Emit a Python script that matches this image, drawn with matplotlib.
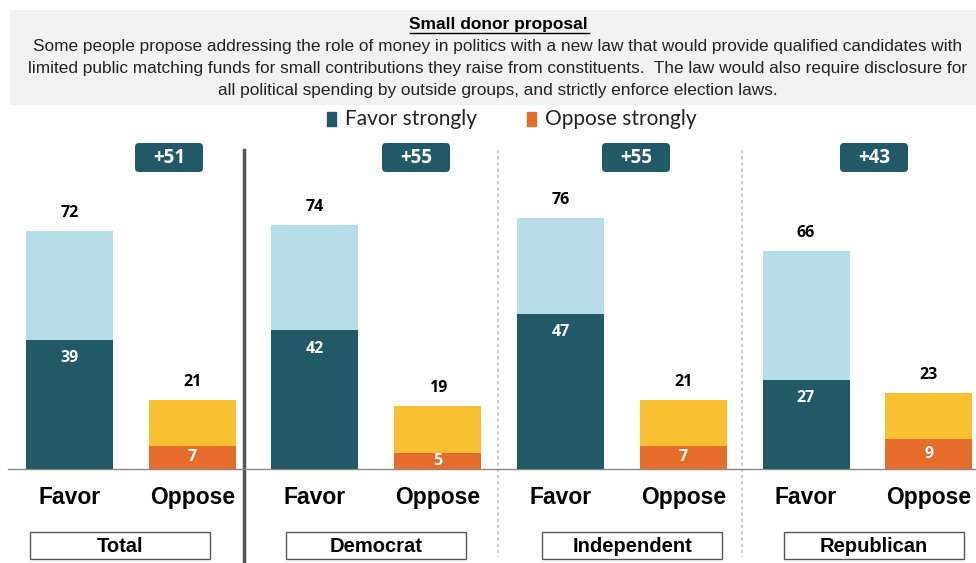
import matplotlib.pyplot as plt
from matplotlib.patches import FancyBboxPatch, Rectangle

groups = ['Total', 'Democrat', 'Independent', 'Republican']
favor_total = [72, 74, 76, 66]
favor_strong = [39, 42, 47, 27]
oppose_total = [21, 19, 21, 23]
oppose_strong = [7, 5, 7, 9]
net = ['+51', '+55', '+55', '+43']

body_lines = [
    'Some people propose addressing the role of money in politics with a new law that would provide qualified candidates with',
    'limited public matching funds for small contributions they raise from constituents.  The law would also require disclosure for',
    'all political spending by outside groups, and strictly enforce election laws.',
]

dark = '#215967'
light = '#b7dee8'
yellow = '#f9c132'
orange = '#e66c2c'

W, H = 976, 563
fig = plt.figure(figsize=(W / 100, H / 100), dpi=100)

# header box
hdr = fig.add_axes([0, 0, 1, 1])
hdr.set_xlim(0, W)
hdr.set_ylim(H, 0)
hdr.axis('off')
hdr.add_patch(Rectangle((10, 10), 966, 94, color='#f2f2f2', zorder=0))
hdr.text(498, 24, 'Small donor proposal', ha='center', va='center', fontsize=12.5,
         fontweight='bold', family='Liberation Sans')
hdr.plot([410, 589], [33, 33], color='black', lw=1)
for k, line in enumerate(body_lines):
    hdr.text(498, 47 + 22 * k, line, ha='center', va='center', fontsize=12.4,
             family='Liberation Sans', color='#222222')

# legend
hdr.add_patch(Rectangle((327, 112), 9, 14, color=dark))
hdr.text(345, 119, 'Favor strongly', va='center', fontsize=15, family='Lato', color='#222222')
hdr.add_patch(Rectangle((527, 112), 9, 14, color=orange))
hdr.text(545, 119, 'Oppose strongly', va='center', fontsize=15, family='Lato', color='#222222')

# dividers
hdr.plot([244, 244], [150, 563], color='#555555', lw=2.5)
for xd in [498, 742]:
    hdr.plot([xd, xd], [150, 557], color='#cccccc', lw=1.5, ls=(0, (1.5, 1.5)))
hdr.plot([8, 976], [469, 469], color='#888888', lw=1)

# group label boxes
box_cx = [120, 376, 632, 874]
for cx, g in zip(box_cx, groups):
    hdr.add_patch(Rectangle((cx - 90, 532), 180, 27, fill=False, ec='#555555', lw=1))
    hdr.text(cx, 546, g, ha='center', va='center', fontsize=14.5, fontweight='bold',
             family='Liberation Sans')

# net boxes
net_cx = [169, 416, 636, 874]
for cx, t in zip(net_cx, net):
    hdr.add_patch(FancyBboxPatch((cx - 34, 143), 68, 29, boxstyle='round,pad=0,rounding_size=4',
                                 fc=dark, ec='none'))
    hdr.text(cx, 158, t, ha='center', va='center', fontsize=13.5, fontweight='bold',
             color='white', family='Open Sans')

# bars
pitch = 122.75
x0 = 69.5
ax = fig.add_axes([0, 94 / H, 1, 330 / H])
ax.set_xlim(-x0 / pitch, (W - x0) / pitch)
ax.set_ylim(0, 100)
ax.axis('off')
bw = 87 / pitch
for i in range(len(groups)):
    xf = 2 * i
    xo = 2 * i + 1
    ax.bar(xf, favor_strong[i], bw, color=dark)
    ax.bar(xf, favor_total[i] - favor_strong[i], bw, bottom=favor_strong[i], color=light)
    ax.bar(xo, oppose_strong[i], bw, color=orange)
    ax.bar(xo, oppose_total[i] - oppose_strong[i], bw, bottom=oppose_strong[i], color=yellow)
    ax.text(xf, favor_total[i] + 5.5, str(favor_total[i]), ha='center', va='center',
            fontsize=11.5, fontweight='bold', family='Open Sans')
    ax.text(xo, oppose_total[i] + 5.5, str(oppose_total[i]), ha='center', va='center',
            fontsize=11.5, fontweight='bold', family='Open Sans')
    ax.text(xf, favor_strong[i] - 5.5, str(favor_strong[i]), ha='center', va='center',
            fontsize=11.5, fontweight='bold', color='white', family='Open Sans')
    ax.text(xo, oppose_strong[i] / 2, str(oppose_strong[i]), ha='center', va='center',
            fontsize=11.5, fontweight='bold', color='white', family='Open Sans')
    ax.text(xf, -8.5, 'Favor', ha='center', va='center', fontsize=16.5, fontweight='bold',
            family='Liberation Sans')
    ax.text(xo, -8.5, 'Oppose', ha='center', va='center', fontsize=16.5, fontweight='bold',
            family='Liberation Sans')

fig.savefig('out.png', dpi=100)
